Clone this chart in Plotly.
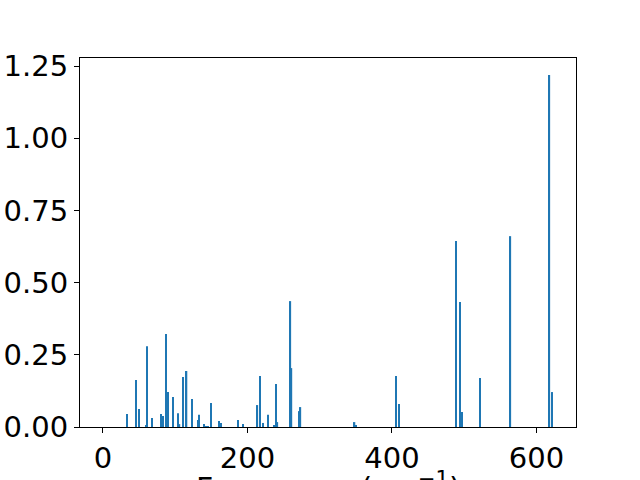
import plotly.graph_objects as go

frequency = [33.6, 46.0, 50.3, 60.0, 61.3, 67.4, 80.7, 83.0, 87.2, 90.0, 97.3, 104.0, 106.0,
             110.7, 115.8, 122.9, 131.5, 133.0, 139.4, 142.5, 145.0, 149.5, 160.5, 163.0,
             186.8, 193.8, 213.8, 217.3, 222.0, 228.4, 237.4, 239.5, 241.5, 259.5, 261.0,
             272.0, 273.4, 348.3, 350.0, 405.5, 409.7, 488.6, 494.0, 497.0, 521.8, 564.0,
             618.0, 622.0]
intensity = [0.045, 0.163, 0.062, 0.007, 0.280, 0.031, 0.045, 0.038, 0.322, 0.121, 0.104, 0.048, 0.010,
             0.173, 0.194, 0.097, 0.024, 0.042, 0.010, 0.003, 0.003, 0.083, 0.021, 0.014,
             0.024, 0.010, 0.076, 0.177, 0.014, 0.042, 0.007, 0.149, 0.017, 0.436, 0.204,
             0.055, 0.069, 0.017, 0.007, 0.177, 0.080, 0.644, 0.433, 0.052, 0.170, 0.661,
             1.219, 0.121]
x_ticks = [0, 200, 400, 600]
y_ticks = [0.0, 0.25, 0.5, 0.75, 1.0, 1.25]
x_title = "Frequency (cm<sup>−1</sup>)"

fig = go.Figure(go.Bar(
    x=frequency, y=intensity, width=[1.8] * len(frequency),
    marker=dict(color="#1f77b4", line=dict(width=0)),
))

axis_common = dict(showline=True, linecolor="black", linewidth=1, mirror=True,
                   ticks="outside", ticklen=5, tickwidth=1, tickcolor="black",
                   showgrid=False, zeroline=False, automargin=False,
                   tickfont=dict(family="DejaVu Sans", size=29, color="black"))

fig.update_layout(
    width=640, height=480,
    margin=dict(l=80, r=64, t=58, b=53),
    paper_bgcolor="white", plot_bgcolor="white",
    showlegend=False,
    xaxis=dict(range=[-31.8, 654.7], tickvals=x_ticks, ticktext=[str(v) for v in x_ticks], **axis_common),
    yaxis=dict(range=[0, 1.278], tickvals=y_ticks, ticktext=[f"{v:.2f}" for v in y_ticks], **axis_common),
    annotations=[dict(text=x_title, xref="paper", yref="paper", x=0.5, y=-0.103, xanchor="center",
                      yanchor="top", showarrow=False,
                      font=dict(family="DejaVu Sans", size=30, color="black"))],
)

fig.write_html("out.html", config={"displayModeBar": False},
               post_script="document.body.style.margin='0px';")
